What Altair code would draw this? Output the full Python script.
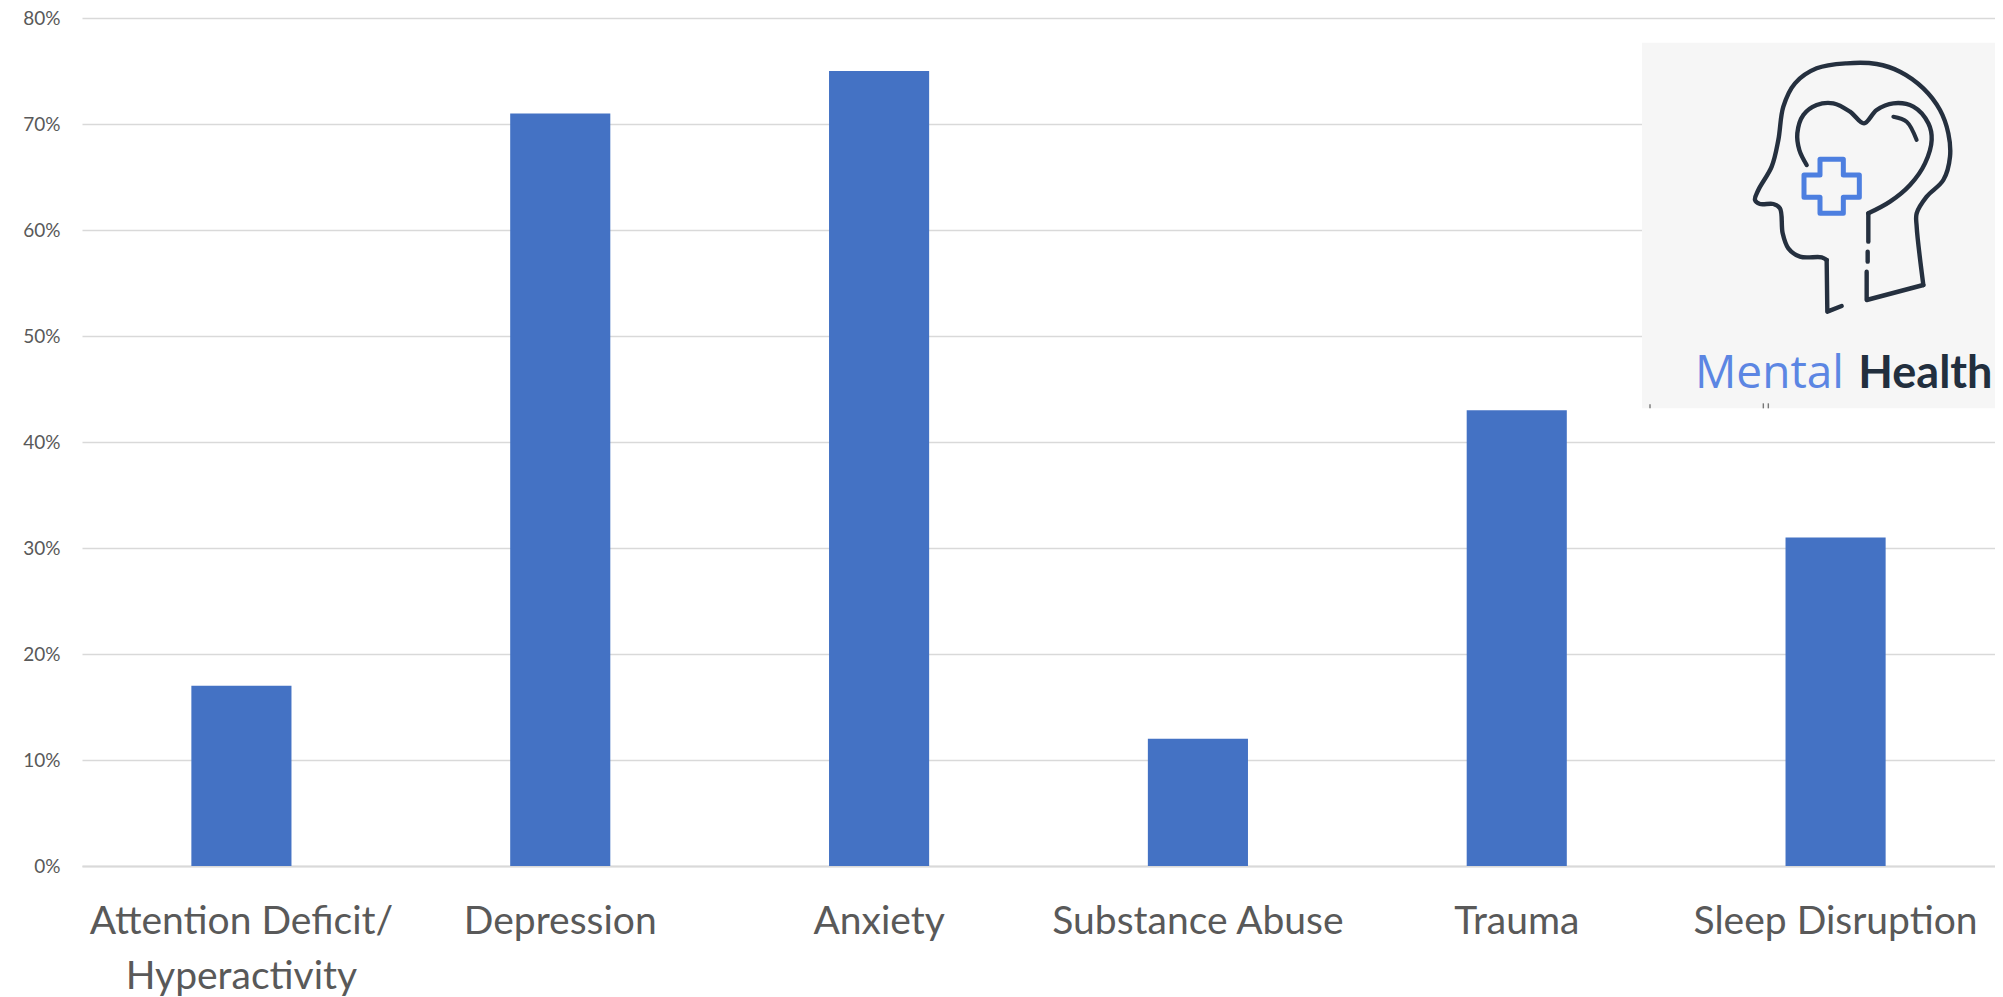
import altair as alt
import pandas as pd

categories = ["Attention Deficit/ Hyperactivity", "Depression", "Anxiety",
              "Substance Abuse", "Trauma", "Sleep Disruption"]
values = [0.17, 0.71, 0.75, 0.12, 0.43, 0.31]
y_ticks = [0, 0.1, 0.2, 0.3, 0.4, 0.5, 0.6, 0.7, 0.8]

# Logo drawing, in the logo's own units (3 units = 1 screen px)
head_curve = [(680, 780), (665, 772), (600, 770), (565, 745), (548, 700), (540, 625), (520, 612),
              (480, 612), (465, 600), (475, 570), (515, 500), (535, 420), (550, 320), (585, 250),
              (650, 205), (740, 190), (830, 192), (900, 215), (970, 265), (1020, 330), (1045, 400),
              (1050, 470), (1030, 540), (980, 590), (950, 640), (950, 680), (970, 855)]
chin = [(725, 918), (682, 935), (680, 780)]
neck_low = [(970, 855), (800, 900), (800, 815)]
neck_mid = [(803, 755), (803, 785)]
heart = [(620, 495), (598, 450), (592, 400), (610, 345), (650, 315), (700, 310), (750, 335), (792, 370),
         (830, 330), (880, 310), (940, 320), (985, 370), (995, 420), (975, 490), (930, 555), (870, 605),
         (805, 640)]
neck_top = [(805, 640), (805, 725)]
shine = [(880, 350), (920, 365), (950, 420)]
cross = [(660, 478), (730, 478), (730, 525), (778, 525), (778, 592), (730, 592), (730, 640), (660, 640),
         (660, 592), (612, 592), (612, 525), (660, 525), (660, 478)]
clipped_a = [(150, 1213), (150, 1225)]
clipped_b = [(490, 1210), (490, 1225)]
clipped_c = [(505, 1210), (505, 1225)]
panel = {"x": 126, "x2": 1300, "y": 128, "y2": 1225}
logo_words = [("Mental", 285, 1165, "normal", "#5C86E3", "Open Sans", 46),
              ("Health", 775, 1165, "bold", "#222F3E", "Lato", 45)]

X_DOM = [-4554, 1185]
Y_DOM = [2598, 54]
lx = alt.Scale(domain=X_DOM, zero=False, nice=False)
ly = alt.Scale(domain=Y_DOM, zero=False, nice=False)

df = pd.DataFrame({"category": categories, "value": values})

bars = alt.Chart(df).mark_bar(color="#4472C4").encode(
    x=alt.X("category:N", sort=categories, title=None,
            scale=alt.Scale(paddingInner=0.686, paddingOuter=0.343),
            axis=alt.Axis(labelAngle=0, labelFont="Lato", labelFontSize=39, labelColor="#595959",
                          labelPadding=36, labelLimit=600, labelLineHeight=55, labelOverlap=False,
                          ticks=False, domain=True, domainColor="#D9D9D9", domainWidth=2,
                          grid=False,
                          labelExpr="indexof(datum.label, '/ ') >= 0 ? "
                                    "['Attention Deficit/', 'Hyperactivity'] : datum.label")),
    y=alt.Y("value:Q", title=None,
            scale=alt.Scale(domain=[0, 0.8], nice=False),
            axis=alt.Axis(values=y_ticks, format=".0%", labelFont="Lato", labelFontSize=19,
                          labelColor="#595959", labelPadding=22, ticks=False, domain=False,
                          grid=True, gridColor="#D9D9D9", gridWidth=1.6)),
)


def xy(points):
    return pd.DataFrame({"px": [p[0] for p in points], "py": [p[1] for p in points],
                         "i": list(range(len(points)))})


def stroke(points, color, width, interp="linear", cap="round"):
    return alt.Chart(xy(points)).mark_line(
        color=color, strokeWidth=width, interpolate=interp, strokeCap=cap, strokeJoin="round"
    ).encode(
        x=alt.X("px:Q", scale=lx, axis=None),
        y=alt.Y("py:Q", scale=ly, axis=None),
        order="i:Q",
    )


panel_layer = alt.Chart(pd.DataFrame([panel])).mark_rect(color="#F6F6F6").encode(
    x=alt.X("x:Q", scale=lx, axis=None), x2="x2:Q",
    y=alt.Y("y:Q", scale=ly, axis=None), y2="y2:Q",
)

DARK = "#25303F"
logo = [
    panel_layer,
    stroke(head_curve, DARK, 4.4, "catmull-rom"),
    stroke(chin, DARK, 4.4),
    stroke(neck_low, DARK, 4.4),
    stroke(neck_mid, DARK, 4.4),
    stroke(heart, DARK, 4.4, "catmull-rom"),
    stroke(neck_top, DARK, 4.4),
    stroke(shine, DARK, 4, "catmull-rom"),
    stroke(cross, "#4D7FE0", 5),
    stroke(clipped_a, "#777777", 1.4, cap="butt"),
    stroke(clipped_b, "#777777", 1.4, cap="butt"),
    stroke(clipped_c, "#777777", 1.4, cap="butt"),
]
for word, wx, wy, weight, col, fam, fsize in logo_words:
    logo.append(
        alt.Chart(pd.DataFrame({"t": [word], "px": [wx], "py": [wy]})).mark_text(
            font=fam, fontSize=fsize, fontWeight=weight, color=col,
            align="left", baseline="alphabetic"
        ).encode(
            x=alt.X("px:Q", scale=lx, axis=None),
            y=alt.Y("py:Q", scale=ly, axis=None),
            text="t:N",
        )
    )

chart = alt.layer(bars, *logo).resolve_scale(x="independent", y="independent").properties(
    width=1913, height=848,
    autosize=alt.AutoSizeParams(type="none"),
    padding={"left": 74, "top": 10, "right": 0, "bottom": 130},
    background="white",
).configure_view(stroke=None)

chart.save("out.html", embed_options={"renderer": "svg", "actions": False})
